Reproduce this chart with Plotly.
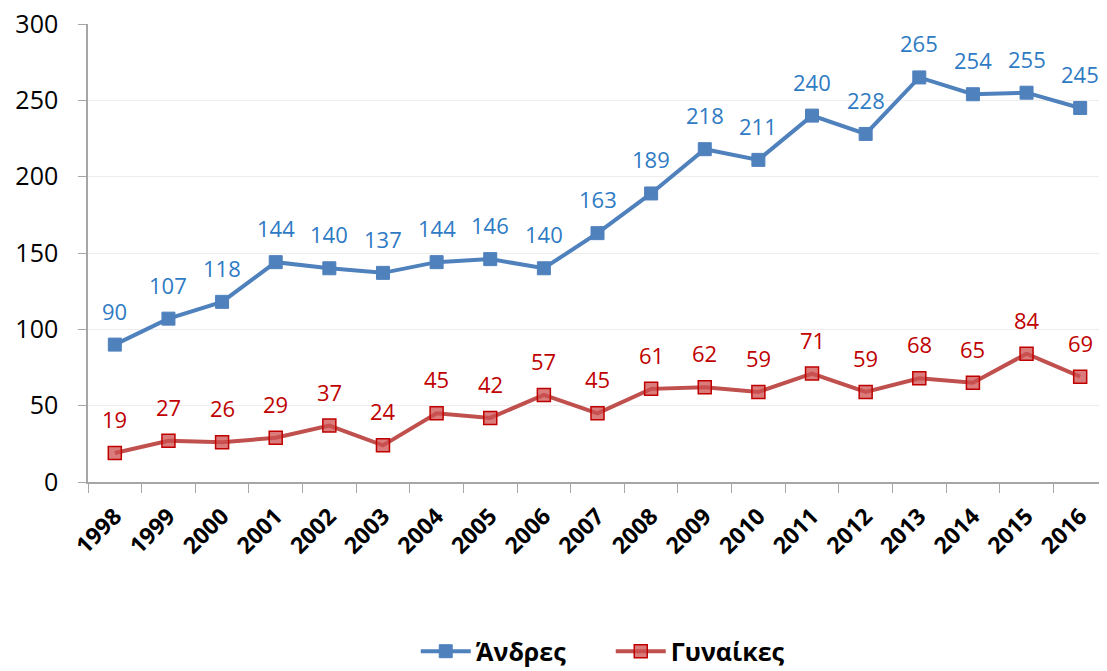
import plotly.graph_objects as go

years = [str(y) for y in range(1998, 2017)]
men = [90, 107, 118, 144, 140, 137, 144, 146, 140, 163, 189, 218, 211, 240, 228, 265, 254, 255, 245]
women = [19, 27, 26, 29, 37, 24, 45, 42, 57, 45, 61, 62, 59, 71, 59, 68, 65, 84, 69]

FONT = "Open Sans"
BLUE = "#4F81BD"
BLUE_TXT = "#2E7BC4"
RED = "#C0504D"
RED_TXT = "#C00000"

fig = go.Figure()

fig.add_trace(go.Scatter(
    x=years, y=men, name="Άνδρες", mode="lines+markers",
    line=dict(color=BLUE, width=4),
    marker=dict(symbol="square", size=13, color=BLUE, line=dict(color=BLUE, width=1)),
))

fig.add_trace(go.Scatter(
    x=years, y=women, name="Γυναίκες", mode="lines+markers",
    line=dict(color=RED, width=4),
    marker=dict(symbol="square", size=13, color="rgba(205,80,80,0.75)",
                line=dict(color=RED_TXT, width=1.5)),
))

# data labels above each point (x given as category index)
for vals, col in [(men, BLUE_TXT), (women, RED_TXT)]:
    for i, v in enumerate(vals):
        fig.add_annotation(
            x=i, y=v, text=str(v), showarrow=False,
            yanchor="middle", yshift=34,
            font=dict(family=FONT, size=22, color=col),
        )

# the page body has an 8px offset, so the figure is sized 8px smaller
fig.update_layout(
    width=1099, height=663,
    margin=dict(l=80, r=0, t=16, b=189, autoexpand=False),
    plot_bgcolor="white", paper_bgcolor="white",
    font=dict(family=FONT, color="black"),
    showlegend=True,
    legend=dict(orientation="h", x=0.513, xanchor="center", y=-0.37, yanchor="middle",
                font=dict(size=25, color="black", weight="bold"),
                itemwidth=50, entrywidth=130),
)

fig.update_xaxes(
    type="category", range=[-0.5, 18.5], tickangle=-45, automargin=False,
    tickfont=dict(family=FONT, size=23, color="black", weight="bold"),
    ticklabelstandoff=10,
    showline=True, linecolor="#A6A6A6", linewidth=1.5,
    ticks="outside", ticklen=9, tickcolor="#A6A6A6", tickson="boundaries",
    showgrid=False,
)
fig.update_yaxes(
    range=[0, 300], dtick=50, automargin=False, ticklabeloverflow="allow",
    tickfont=dict(family=FONT, size=25, color="black"),
    ticklabelstandoff=15,
    showline=True, linecolor="#A6A6A6", linewidth=1.5,
    ticks="outside", ticklen=8, tickcolor="#A6A6A6",
    showgrid=True, gridcolor="#EDEDED", gridwidth=1, zeroline=False,
)

fig.write_html("out.html")
